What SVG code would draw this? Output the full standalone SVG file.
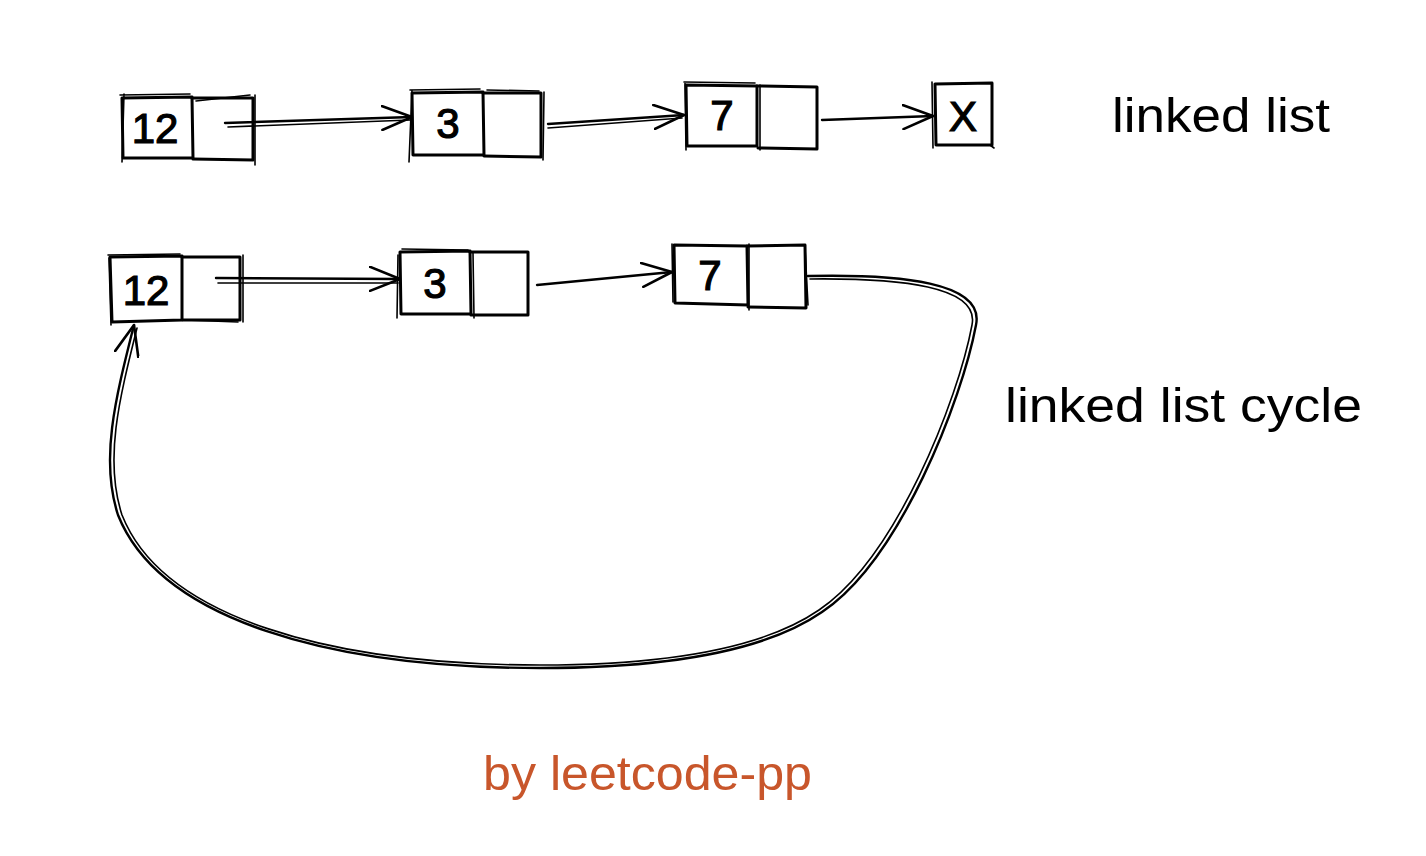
<svg xmlns="http://www.w3.org/2000/svg" width="1426" height="856" viewBox="0 0 1426 856">
<style>
.box{fill:none;stroke:#000;stroke-width:3;stroke-linecap:round;stroke-linejoin:round}
.sk{fill:none;stroke:#000;stroke-width:1.6;stroke-linecap:round}
.ln{fill:none;stroke:#000;stroke-width:2.4;stroke-linecap:round}
.num{font-family:"Liberation Sans",Arial,sans-serif;font-size:42px;text-anchor:middle;dominant-baseline:central;fill:#000;stroke:#000;stroke-width:1.2}
.lbl{font-family:"Liberation Sans",Arial,sans-serif;font-size:48px;fill:#000}
</style>
<defs>
<marker id="ah" viewBox="0 0 32 26" refX="31" refY="13" markerWidth="32" markerHeight="26" markerUnits="userSpaceOnUse" orient="auto">
<path d="M1,1 L31,13 L1,25" fill="none" stroke="#000" stroke-width="2.6" stroke-linecap="round" stroke-linejoin="round"/>
</marker>
</defs>
<rect width="1426" height="856" fill="#fff"/>

<g id="connectors">
<path class="ln" d="M225,123 L412,117" marker-end="url(#ah)"/>
<path class="sk" d="M228,127 L410,120"/>
<path class="ln" d="M548,124 L684,115" marker-end="url(#ah)"/>
<path class="sk" d="M548,128 L682,118"/>
<path class="ln" d="M822,120 L933,116" marker-end="url(#ah)"/>
<path class="ln" d="M216,278 L400,279" marker-end="url(#ah)"/>
<path class="sk" d="M218,283 L398,283"/>
<path class="ln" d="M537,285 L672,272" marker-end="url(#ah)"/>
<path class="ln" d="M808,276 C900,274 985,282 976,325 C962,400 900,560 822,612 C760,655 650,668 540,668 C330,668 160,620 118,515 C100,460 115,400 134,325" marker-end="url(#ah)"/>
<path class="sk" d="M810,279 C900,278 980,286 972,325 C958,400 896,558 819,610 C758,652 650,665 540,665 C330,665 163,618 122,515 C104,460 119,400 137,328"/>
</g>

<g id="n1">
<path class="box" d="M122,98 L192,97 L193,158 L123,158 Z"/>
<path class="box" d="M192,98 L253,98 L253,160 L193,159"/>
<path class="sk" d="M120,95 L190,94 M124,94 L122,162 M196,101 L250,95 M255,95 L255,165"/>
<text class="num" x="155" y="128">12</text>
</g>
<g id="n2">
<path class="box" d="M412,93 L483,92 L484,155 L413,155 Z"/>
<path class="box" d="M483,93 L541,93 L541,157 L484,156"/>
<path class="sk" d="M410,90 L480,89 M412,90 L409,162 M487,90 L539,91 M544,92 L543,160"/>
<text class="num" x="448" y="123">3</text>
</g>
<g id="n3">
<path class="box" d="M686,85 L757,86 L757,146 L687,146 Z"/>
<path class="box" d="M757,86 L817,87 L817,149 L758,148"/>
<path class="sk" d="M684,82 L755,83 M685,83 L686,150 M760,85 L760,150"/>
<text class="num" x="722" y="115">7</text>
</g>
<g id="nx">
<path class="box" d="M935,84 L992,83 L992,145 L936,145 Z"/>
<path class="sk" d="M932,82 L933,148 M990,145 L994,148"/>
<text class="num" x="963" y="116">X</text>
</g>

<g id="c1">
<path class="box" d="M110,257 L182,256 L182,320 L112,322 Z"/>
<path class="box" d="M182,257 L240,257 L240,320 L183,320"/>
<path class="sk" d="M108,255 L180,254 M109,258 L111,325 M185,320 L238,322 M243,255 L243,322"/>
<text class="num" x="146" y="290">12</text>
</g>
<g id="c2">
<path class="box" d="M400,252 L470,251 L471,314 L401,314 Z"/>
<path class="box" d="M470,252 L528,252 L528,315 L471,315"/>
<path class="sk" d="M402,249 L468,250 M398,255 L397,318 M473,253 L474,318"/>
<text class="num" x="435" y="283">3</text>
</g>
<g id="c3">
<path class="box" d="M674,245 L747,246 L748,305 L675,303 Z"/>
<path class="box" d="M747,246 L805,245 L806,308 L748,307"/>
<path class="sk" d="M672,244 L673,302 M749,244 L749,310 M805,248 L808,305"/>
<text class="num" x="710" y="275">7</text>
</g>

<g id="labels">
<text class="lbl" x="1112" y="132" textLength="218" lengthAdjust="spacingAndGlyphs">linked list</text>
<text class="lbl" x="1005" y="422" textLength="357" lengthAdjust="spacingAndGlyphs">linked list cycle</text>
<text class="lbl" x="483" y="790" fill="#c8562b" style="fill:#c8562b" textLength="329" lengthAdjust="spacingAndGlyphs">by leetcode-pp</text>
</g>
</svg>
